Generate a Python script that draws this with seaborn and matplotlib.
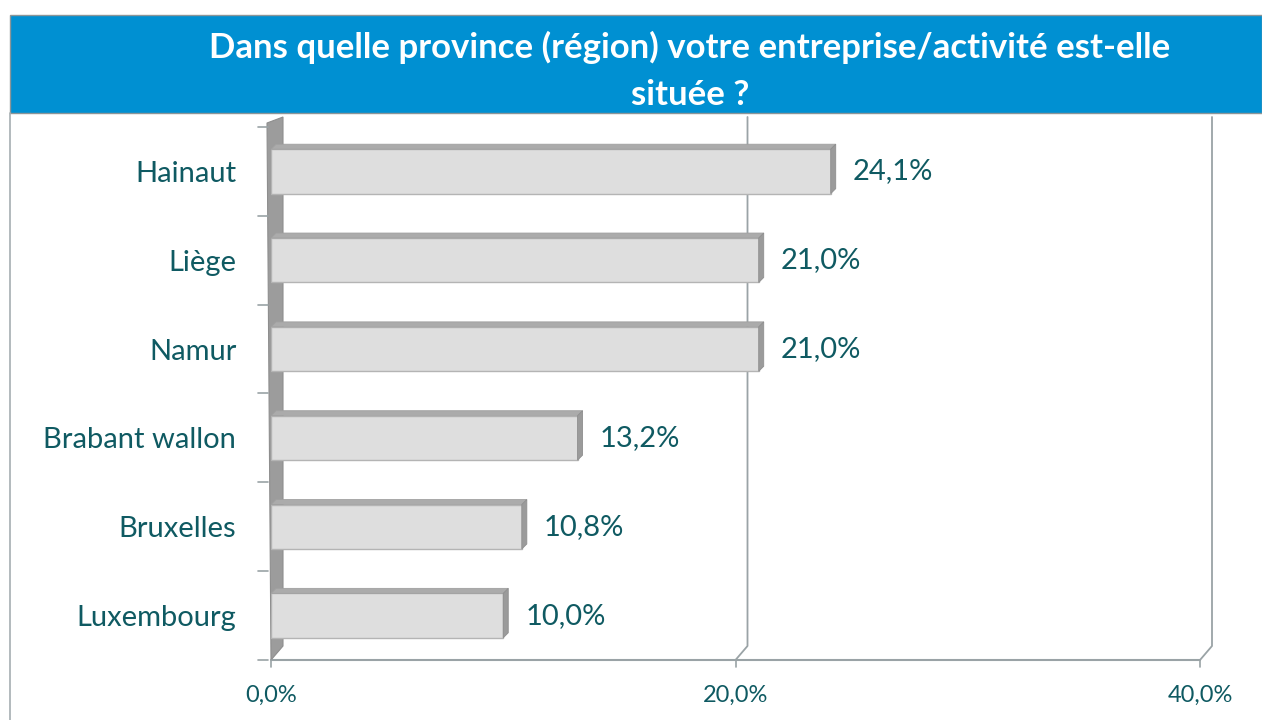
import matplotlib
matplotlib.use("Agg")
import matplotlib.pyplot as plt
from matplotlib.patches import Polygon, Rectangle
from matplotlib.lines import Line2D
import seaborn as sns
import pandas as pd

provinces = ["Hainaut", "Liège", "Namur", "Brabant wallon", "Bruxelles", "Luxembourg"]
shares = [24.1, 21.0, 21.0, 13.2, 10.8, 10.0]
x_ticks = [0, 20, 40]
x_tick_labels = ["0,0%", "20,0%", "40,0%"]
title = "Dans quelle province (région) votre entreprise/activité est-elle\nsituée ?"

TEXT = "#0F5A62"
BAND = "#0090D2"
GRID = "#9AA3A6"

sns.set_theme(style="white")
plt.rcParams["font.family"] = ["Lato", "DejaVu Sans"]

fig = plt.figure(figsize=(12.62, 7.2), dpi=100)
W, H = 1262, 720

def fx(px):
    return px / W

def fy(py):
    return 1 - py / H

# title band and frame
fig.patches.append(Rectangle((fx(10), fy(113)), fx(1262 - 10), 98 / H,
                             transform=fig.transFigure, facecolor=BAND,
                             edgecolor="#8C9598", linewidth=1.0, zorder=0))
fig.lines.append(Line2D([fx(10), fx(10)], [fy(113), 0], transform=fig.transFigure,
                        color="#A6AEB1", linewidth=1.2))
fig.text(fx(690), fy(71), title, ha="center", va="center", color="white",
         fontsize=25, fontweight="bold", linespacing=1.55)

ax = fig.add_axes([fx(271), fy(660), fx(1200 - 271), (660 - 127) / H])

df = pd.DataFrame({"province": provinces, "share": shares})
sns.barplot(data=df, x="share", y="province", orient="h", color="#DEDEDE",
            edgecolor="#B4B4B4", linewidth=1.0, width=0.5, ax=ax, zorder=3)

ax.set_xlim(0, 40)
ax.set_ylim(len(provinces) - 0.5, -0.5)
for s in ax.spines.values():
    s.set_visible(False)
ax.set_xlabel("")
ax.set_ylabel("")

inv = ax.transData.inverted()
back = 12
lift = 14
floor_y = len(provinces) - 0.5

# back-wall gridlines with a short diagonal down to the floor
for xv in x_ticks[1:]:
    a = ax.transData.transform((xv, floor_y))
    t = ax.transData.transform((xv, -0.5))
    pts = [t + [back, 10], a + [back, lift], a]
    xs, ys = zip(*[inv.transform(p) for p in pts])
    ax.plot(xs, ys, color=GRID, lw=1.3, zorder=1, clip_on=False)

# floor front edge
f0 = ax.transData.transform((0, floor_y))
f1 = ax.transData.transform((40, floor_y))
ax.plot(*zip(inv.transform(f0), inv.transform(f1)), color=GRID, lw=1.5,
        zorder=1, clip_on=False)

# left side wall
w0 = ax.transData.transform((0, -0.5))
wall_px = [w0 + [-4, 4], w0 + [back, 10], f0 + [back, lift], f0 + [0, 0]]
ax.add_patch(Polygon([inv.transform(p) for p in wall_px], closed=True,
                     facecolor="#9C9C9C", edgecolor="#8E8E8E", lw=0.8,
                     zorder=2, clip_on=False))

# category boundary ticks on the left
for k in range(len(provinces) + 1):
    p = ax.transData.transform((0, k - 0.5))
    q0, q1 = inv.transform(p + [-13, 0]), inv.transform(p + [-3, 0])
    ax.plot([q0[0], q1[0]], [q0[1], q1[1]], color=GRID, lw=1.2, clip_on=False, zorder=2)

# x ticks on the floor front edge
for xv in x_ticks:
    p = ax.transData.transform((xv, floor_y))
    q0, q1 = inv.transform(p), inv.transform(p + [0, -7])
    ax.plot([q0[0], q1[0]], [q0[1], q1[1]], color=GRID, lw=1.2, clip_on=False, zorder=2)

# bar top and end faces, plus value labels
depth = 5
for bar, val in zip(ax.patches[:len(shares)], shares):
    x0, y0 = bar.get_x(), bar.get_y()
    w, h = bar.get_width(), bar.get_height()
    tl = ax.transData.transform((x0, y0))
    tr = ax.transData.transform((x0 + w, y0))
    br = ax.transData.transform((x0 + w, y0 + h))
    top = [tl, tr, tr + [depth, depth], tl + [depth, depth]]
    side = [tr, br, br + [depth, depth], tr + [depth, depth]]
    ax.add_patch(Polygon([inv.transform(p) for p in top], closed=True,
                         facecolor="#ABABAB", edgecolor="#A0A0A0", lw=0.6,
                         zorder=4, clip_on=False))
    ax.add_patch(Polygon([inv.transform(p) for p in side], closed=True,
                         facecolor="#9B9B9B", edgecolor="#8F8F8F", lw=0.6,
                         zorder=4, clip_on=False))
    ax.annotate(f"{val:.1f}%".replace(".", ","), (x0 + w, y0 + h / 2),
                xytext=(16, 0), textcoords="offset points", ha="left",
                va="center", color=TEXT, fontsize=21)

ax.set_xticks(x_ticks)
ax.set_xticklabels(x_tick_labels, color=TEXT, fontsize=17)
ax.tick_params(axis="x", length=0, pad=18)
ax.tick_params(axis="y", length=0, pad=25, labelsize=21, labelcolor=TEXT)

fig.savefig("out.png", dpi=100)
